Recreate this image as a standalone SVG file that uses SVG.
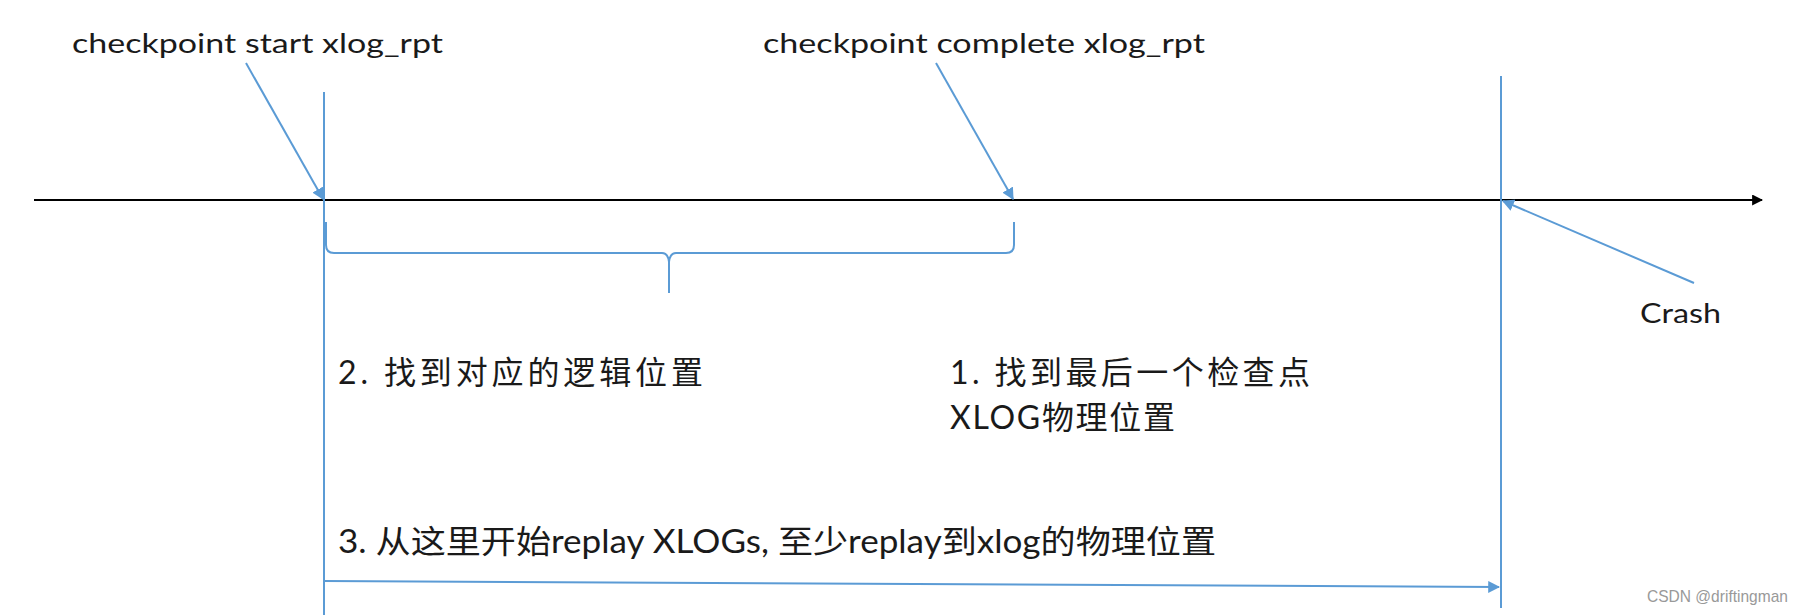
<svg xmlns="http://www.w3.org/2000/svg" width="1813" height="615" viewBox="0 0 1813 615">
<style>
.lbl{font-family:Lato,"Noto Sans CJK SC",sans-serif;fill:#1a1a1a}
.blue{stroke:#5B9BD5;stroke-width:2;fill:none}
.axis{stroke:#000;stroke-width:2.2;fill:none}
</style>
<defs>
<marker id="ab" viewBox="0 0 10 10" refX="9" refY="5" markerWidth="6" markerHeight="6" orient="auto" markerUnits="strokeWidth">
<path d="M0,0 L10,5 L0,10 z" fill="#5B9BD5"/>
</marker>
<marker id="ak" viewBox="0 0 10 10" refX="9" refY="5" markerWidth="5" markerHeight="5" orient="auto" markerUnits="strokeWidth">
<path d="M0,0 L10,5 L0,10 z" fill="#000"/>
</marker>
</defs>
<rect width="1813" height="615" fill="#fff"/>
<g id="connectors">
<line id="timeline" class="axis" x1="34" y1="200" x2="1762" y2="200" marker-end="url(#ak)"/>
<line id="vline-start" class="blue" x1="324" y1="92" x2="324" y2="615"/>
<line id="vline-crash" class="blue" x1="1501" y1="76" x2="1501" y2="608"/>
<line id="arrow-start" class="blue" x1="246" y1="63" x2="323" y2="199" marker-end="url(#ab)"/>
<line id="arrow-complete" class="blue" x1="936" y1="63" x2="1013" y2="199" marker-end="url(#ab)"/>
<line id="arrow-crash" class="blue" x1="1694" y1="283" x2="1503" y2="201" marker-end="url(#ab)"/>
<path id="brace" class="blue" d="M326,222 V245 Q326,253 334,253 H662 Q668,253 669,262 V293 M669,262 Q670,253 676,253 H1006 Q1014,253 1014,245 V222"/>
<line id="arrow-replay" class="blue" x1="324" y1="581" x2="1499" y2="587" stroke-width="2.5" marker-end="url(#ab)"/>
</g>
<g id="label-start"><text class="lbl" x="72" y="53" font-size="27" textLength="371" lengthAdjust="spacingAndGlyphs">checkpoint start xlog_rpt</text></g>
<g id="label-complete"><text class="lbl" x="763" y="53" font-size="27" textLength="442" lengthAdjust="spacingAndGlyphs">checkpoint complete xlog_rpt</text></g>
<g id="label-crash"><text class="lbl" x="1640" y="323" font-size="27" textLength="81" lengthAdjust="spacingAndGlyphs">Crash</text></g>
<g id="label-step2"><text class="lbl" x="338" y="384" font-size="32" textLength="365" lengthAdjust="spacing">2. 找到对应的逻辑位置</text></g>
<g id="label-step1">
<text class="lbl" x="950" y="384" font-size="32" textLength="360" lengthAdjust="spacing">1. 找到最后一个检查点</text>
<text class="lbl" x="950" y="429" font-size="32" textLength="225" lengthAdjust="spacing">XLOG物理位置</text>
</g>
<g id="label-step3"><text class="lbl" x="338" y="553" font-size="32" textLength="878" lengthAdjust="spacingAndGlyphs">3. 从这里开始replay XLOGs, 至少replay到xlog的物理位置</text></g>
<g id="watermark"><text x="1647" y="602" font-family="'Liberation Sans',sans-serif" font-size="17" fill="#999" textLength="141" lengthAdjust="spacingAndGlyphs">CSDN @driftingman</text></g>
</svg>
